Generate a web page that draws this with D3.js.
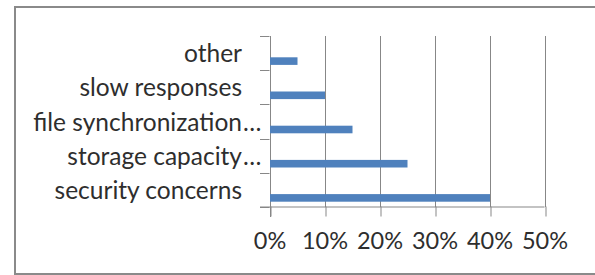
<!DOCTYPE html>
<html><head><meta charset="utf-8">
<script src="https://cdn.jsdelivr.net/npm/d3@7"></script>
<style>html,body{margin:0;padding:0;background:#fff;}svg{display:block;}</style>
</head><body>
<svg id="c" width="595" height="275"></svg>
<script>
const categories = ["security concerns", "storage capacity…", "file synchronization…", "slow responses", "other"];
const values = [0.40, 0.25, 0.15, 0.10, 0.05];
const xTicks = [0, 0.1, 0.2, 0.3, 0.4, 0.5];
const xTickLabels = ["0%", "10%", "20%", "30%", "40%", "50%"];

const svg = d3.select("#c");
const FONT = "Lato, 'Open Sans', sans-serif";
const grey = "#878787";
const textCol = "#2e2e2e";

// frame
svg.append("rect").attr("x", 15).attr("y", 7).attr("width", 600).attr("height", 267)
  .attr("fill", "#fff").attr("stroke", "#8a8a8a").attr("stroke-width", 2);

const x = d3.scaleLinear().domain([0, 0.5]).range([269.5, 544.5]);
const y = d3.scaleBand().domain(categories.slice().reverse()).range([36, 207]).padding(0);
const bw = y.bandwidth();

// gridlines
svg.append("g").selectAll("line").data(xTicks.slice(1)).join("line")
  .attr("x1", d => Math.round(x(d)) + 0.5).attr("x2", d => Math.round(x(d)) + 0.5)
  .attr("y1", 36).attr("y2", 207)
  .attr("stroke", grey).attr("stroke-width", 1);

// x axis
const xAxis = d3.axisBottom(x).tickValues(xTicks).tickSize(10).tickPadding(10)
  .tickFormat((d, i) => xTickLabels[i]);
const gx = svg.append("g").attr("transform", "translate(0,206.5)").call(xAxis);
gx.select(".domain").attr("stroke", grey).attr("d", `M260,0.5H${x(0.5)}`);
gx.selectAll(".tick line").attr("stroke", grey).attr("transform", function(d){ return `translate(${Math.round(x(d)) + 0.5 - x(d)},0)`; });
gx.selectAll(".tick text").attr("fill", textCol).attr("font-family", FONT).attr("font-size", 23.5).attr("dy", "0.71em").attr("y", 26);

// y axis line and category ticks
svg.append("line").attr("x1", Math.round(x(0)) + 0.5).attr("x2", Math.round(x(0)) + 0.5)
  .attr("y1", 36).attr("y2", 217).attr("stroke", grey);
const bounds = y.domain().map(c => y(c)).concat([y(y.domain()[y.domain().length - 1]) + bw]);
svg.append("g").selectAll("line").data(bounds).join("line")
  .attr("x1", 260).attr("x2", x(0))
  .attr("y1", d => Math.round(d) + 0.5).attr("y2", d => Math.round(d) + 0.5)
  .attr("stroke", grey);

// bars
svg.append("g").selectAll("rect").data(categories).join("rect")
  .attr("x", x(0) + 0.5)
  .attr("y", c => y(c) + bw / 2 + 4.2)
  .attr("width", (c, i) => x(values[i]) - x(0))
  .attr("height", 7.6)
  .attr("fill", "#4f81bd");

// category labels
const lab = svg.append("g").attr("font-family", FONT).attr("fill", textCol);
categories.forEach(c => {
  const base = c.replace("…", "");
  const yy = y(c) + bw / 2 + 9;
  lab.append("text").attr("x", 242).attr("y", yy).attr("text-anchor", "end")
    .attr("font-size", 24.5).text(base);
  if (c.endsWith("…")) {
    lab.append("text").attr("x", 243).attr("y", yy).attr("text-anchor", "start")
      .attr("font-size", 24.5).text("…");
  }
});
</script>
</body></html>
